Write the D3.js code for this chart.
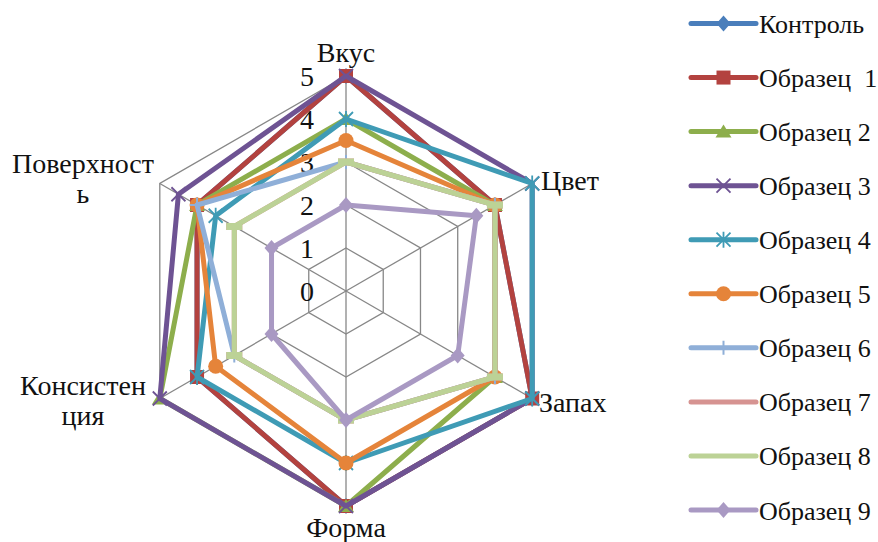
<!DOCTYPE html>
<html>
<head>
<meta charset="utf-8">
<script src="https://cdn.jsdelivr.net/npm/d3@7/dist/d3.min.js"></script>
<style>
  html, body { margin: 0; padding: 0; background: #fff; }
  svg { display: block; }
</style>
</head>
<body>
<svg id="chart" width="878" height="542" font-family="'Liberation Serif', 'DejaVu Serif', serif"></svg>
<script>
// Sensory profile: six attributes scored on a 0–5 scale
const axes = ["Вкус", "Цвет", "Запах", "Форма", "Консистенция", "Поверхность"];
const ticks = [0, 1, 2, 3, 4, 5];

const seriesNames = ["Контроль", "Образец  1", "Образец 2", "Образец 3", "Образец 4",
                     "Образец 5", "Образец 6", "Образец 7", "Образец 8", "Образец 9"];

const control = [5, 4, 5, 5, 4, 4];
const sample1 = [5, 4, 5, 5, 4, 4];
const sample2 = [4, 4, 4, 5, 5, 4];
const sample3 = [5, 5, 5, 5, 5, 4.5];
const sample4 = [4, 5, 5, 4, 4, 3.5];
const sample5 = [3.5, 4, 4, 4, 3.5, 4];
const sample6 = [3, 4, 4, 3, 3, 4];
const sample7 = [3, 4, 4, 3, 3, 3];
const sample8 = [3, 4, 4, 3, 3, 3];
const sample9 = [2, 3.5, 3, 3, 2, 2];

const seriesValues = [control, sample1, sample2, sample3, sample4,
                      sample5, sample6, sample7, sample8, sample9];

const colors = ["#4A7EBB", "#B3423F", "#8DAE4C", "#6E5393", "#3F9BB5",
                "#E5843A", "#8FAFD8", "#D69391", "#BCD296", "#A999C3"];
const markers = ["diamond", "square", "triangle", "x", "star",
                 "circle", "plus", "dash", "dash", "diamond"];

const FONT = "'Liberation Serif', 'DejaVu Serif', serif";
const svg = d3.select("#chart");
const cx = 346, cy = 291, R = 215;
const r = d3.scaleLinear().domain([0, 5]).range([0, R]);
const angle = i => i * 2 * Math.PI / axes.length;
const px = (v, i) => cx + r(v) * Math.sin(angle(i));
const py = (v, i) => cy - r(v) * Math.cos(angle(i));

const radial = d3.lineRadial()
  .angle((d, i) => angle(i))
  .radius(d => r(d))
  .curve(d3.curveLinearClosed);

// grid rings and spokes
const grid = svg.append("g").attr("transform", `translate(${cx},${cy})`);
ticks.filter(t => t > 0).forEach(t => {
  grid.append("path")
    .attr("d", radial(axes.map(() => t)))
    .attr("fill", "none").attr("stroke", "#878787").attr("stroke-width", 1.3);
});
axes.forEach((a, i) => {
  grid.append("line")
    .attr("x1", 0).attr("y1", 0)
    .attr("x2", r(5) * Math.sin(angle(i))).attr("y2", -r(5) * Math.cos(angle(i)))
    .attr("stroke", "#878787").attr("stroke-width", 1.3);
});

// tick labels along the top spoke
svg.append("g").selectAll("text").data(ticks).join("text")
  .attr("x", cx - 32)
  .attr("y", d => cy - r(d) + 10)
  .attr("text-anchor", "end")
  .attr("font-family", FONT)
  .attr("font-size", 28)
  .attr("fill", "#111")
  .text(d => d);

// axis labels
const labelSpec = [
  { lines: ["Вкус"], x: 346, y: 62, anchor: "middle" },
  { lines: ["Цвет"], x: 541, y: 190, anchor: "start" },
  { lines: ["Запах"], x: 539, y: 412, anchor: "start" },
  { lines: ["Форма"], x: 346, y: 537, anchor: "middle" },
  { lines: ["Консистен", "ция"], x: 83, y: 395, anchor: "middle" },
  { lines: ["Поверхност", "ь"], x: 83, y: 173, anchor: "middle" }
];
labelSpec.forEach(s => {
  const t = svg.append("text")
    .attr("x", s.x).attr("y", s.y)
    .attr("text-anchor", s.anchor)
    .attr("font-family", FONT)
    .attr("font-size", 28)
    .attr("fill", "#111");
  s.lines.forEach((ln, j) => {
    t.append("tspan").attr("x", s.x).attr("dy", j === 0 ? 0 : 30).text(ln);
  });
});

// marker drawing
function drawMarker(g, type, x, y, color) {
  const s = 7;
  switch (type) {
    case "diamond":
      g.append("path").attr("d", `M${x},${y - s - 1}L${x + s},${y}L${x},${y + s + 1}L${x - s},${y}Z`).attr("fill", color);
      break;
    case "square":
      g.append("rect").attr("x", x - s).attr("y", y - s).attr("width", 2 * s).attr("height", 2 * s).attr("fill", color);
      break;
    case "triangle":
      g.append("path").attr("d", `M${x},${y - s}L${x + s + 1},${y + s - 1}L${x - s - 1},${y + s - 1}Z`).attr("fill", color);
      break;
    case "x":
      g.append("path").attr("d", `M${x - s},${y - s}L${x + s},${y + s}M${x + s},${y - s}L${x - s},${y + s}`)
        .attr("stroke", color).attr("stroke-width", 1.8).attr("fill", "none");
      break;
    case "star":
      g.append("path").attr("d", `M${x - s},${y - s}L${x + s},${y + s}M${x + s},${y - s}L${x - s},${y + s}M${x},${y - s - 1}L${x},${y + s + 1}`)
        .attr("stroke", color).attr("stroke-width", 1.8).attr("fill", "none");
      break;
    case "circle":
      g.append("circle").attr("cx", x).attr("cy", y).attr("r", s + 0.5).attr("fill", color);
      break;
    case "plus":
      g.append("path").attr("d", `M${x - s},${y}L${x + s},${y}M${x},${y - s}L${x},${y + s}`)
        .attr("stroke", color).attr("stroke-width", 2).attr("fill", "none");
      break;
    case "dash":
      g.append("rect").attr("x", x - s - 1).attr("y", y - 3.5).attr("width", 2 * s + 2).attr("height", 7).attr("fill", color);
      break;
  }
}

// series: line followed by its markers
seriesValues.forEach((vals, k) => {
  const g = svg.append("g");
  g.append("path")
    .attr("transform", `translate(${cx},${cy})`)
    .attr("d", radial(vals))
    .attr("fill", "none")
    .attr("stroke", colors[k])
    .attr("stroke-width", 5)
    .attr("stroke-linejoin", "round");
  vals.forEach((v, i) => drawMarker(g, markers[k], px(v, i), py(v, i), colors[k]));
});

// legend
const legendY = d3.scaleLinear().domain([0, seriesNames.length - 1]).range([23.5, 510]);
seriesNames.forEach((name, k) => {
  const y = legendY(k);
  const g = svg.append("g");
  g.append("line").attr("x1", 691).attr("x2", 756).attr("y1", y).attr("y2", y)
    .attr("stroke", colors[k]).attr("stroke-width", 5).attr("stroke-linecap", "round");
  if (markers[k] !== "dash") drawMarker(g, markers[k], 723.5, y, colors[k]);
  g.append("text").attr("x", 759).attr("y", y + 9.5)
    .attr("font-family", FONT).attr("font-size", 26).attr("fill", "#111")
    .attr("xml:space", "preserve").style("white-space", "pre").text(name);
});
</script>
</body>
</html>
